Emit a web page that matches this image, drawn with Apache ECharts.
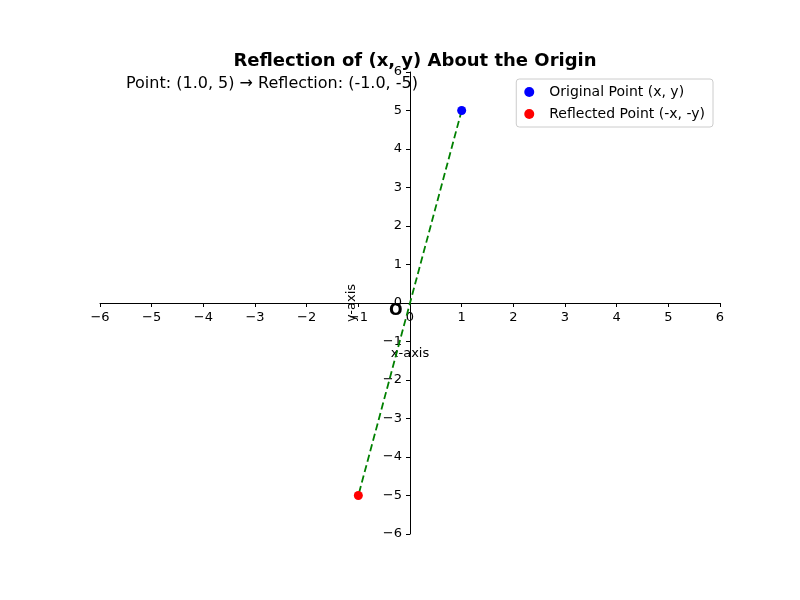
<!DOCTYPE html>
<html><head><meta charset="utf-8">
<script src="https://cdn.jsdelivr.net/npm/echarts@6/dist/echarts.min.js"></script>
</head><body style="margin:0">
<div id="c" style="width:800px;height:600px"></div>
<script>
const original = [[1.0, 5]];
const reflected = [[-1.0, -5]];
const connector = [[1.0, 5], [-1.0, -5]];
const chart = echarts.init(document.getElementById('c'));
const ff = 'DejaVu Sans';
const axCommon = {
  type: 'value', min: -6, max: 6, interval: 1,
  axisLine: {onZero: false, lineStyle: {color: '#000'}},
  axisTick: {show: true, length: 4, lineStyle: {color: '#000'}},
  axisLabel: {color: '#000', fontFamily: ff, fontSize: 13, formatter: v => v < 0 ? '\u2212' + (-v) : '' + v},
  splitLine: {show: false},
  nameTextStyle: {color: '#000', fontFamily: ff, fontSize: 13}
};
chart.setOption({
  animation: false,
  textStyle: {fontFamily: ff},
  title: {text: 'Reflection of (x, y) About the Origin', left: 410, top: 47, textAlign: 'center',
    textStyle: {fontFamily: ff, fontSize: 18, fontWeight: 'bold', color: '#000'}},
  grid: {left: 100, right: 80, top: 72, bottom: 66},
  xAxis: Object.assign({}, axCommon, {offset: -231, name: 'x-axis', nameLocation: 'middle', nameGap: 44}),
  yAxis: Object.assign({}, axCommon, {offset: -310, name: 'y-axis', nameLocation: 'middle', nameGap: 52}),
  legend: {top: 79, right: 87, orient: 'vertical', itemGap: 8, borderColor: '#ccc', borderWidth: 1, borderRadius: 3,
    padding: [6, 8], icon: 'circle', itemWidth: 10, itemHeight: 10,
    textStyle: {fontFamily: ff, fontSize: 14, color: '#000', padding: [0, 0, 0, 10]},
    data: ['Original Point (x, y)', 'Reflected Point (-x, -y)']},
  graphic: [
    {type: 'text', left: 126, top: 76, style: {text: 'Point: (1.0, 5) \u2192 Reflection: (-1.0, -5)', fontFamily: ff, fontSize: 16, fill: '#000'}},
    {type: 'text', left: 389, top: 303, style: {text: 'O', fontFamily: ff, fontSize: 16, fontWeight: 'bold', fill: '#000'}}
  ],
  series: [
    {type: 'line', data: connector, symbol: 'none', lineStyle: {color: 'green', type: 'dashed', width: 1.8}, z: 1},
    {name: 'Original Point (x, y)', type: 'scatter', data: original, symbolSize: 9, itemStyle: {color: 'blue', opacity: 1}, z: 3},
    {name: 'Reflected Point (-x, -y)', type: 'scatter', data: reflected, symbolSize: 9, itemStyle: {color: 'red', opacity: 1}, z: 3}
  ]
});
</script></body></html>
